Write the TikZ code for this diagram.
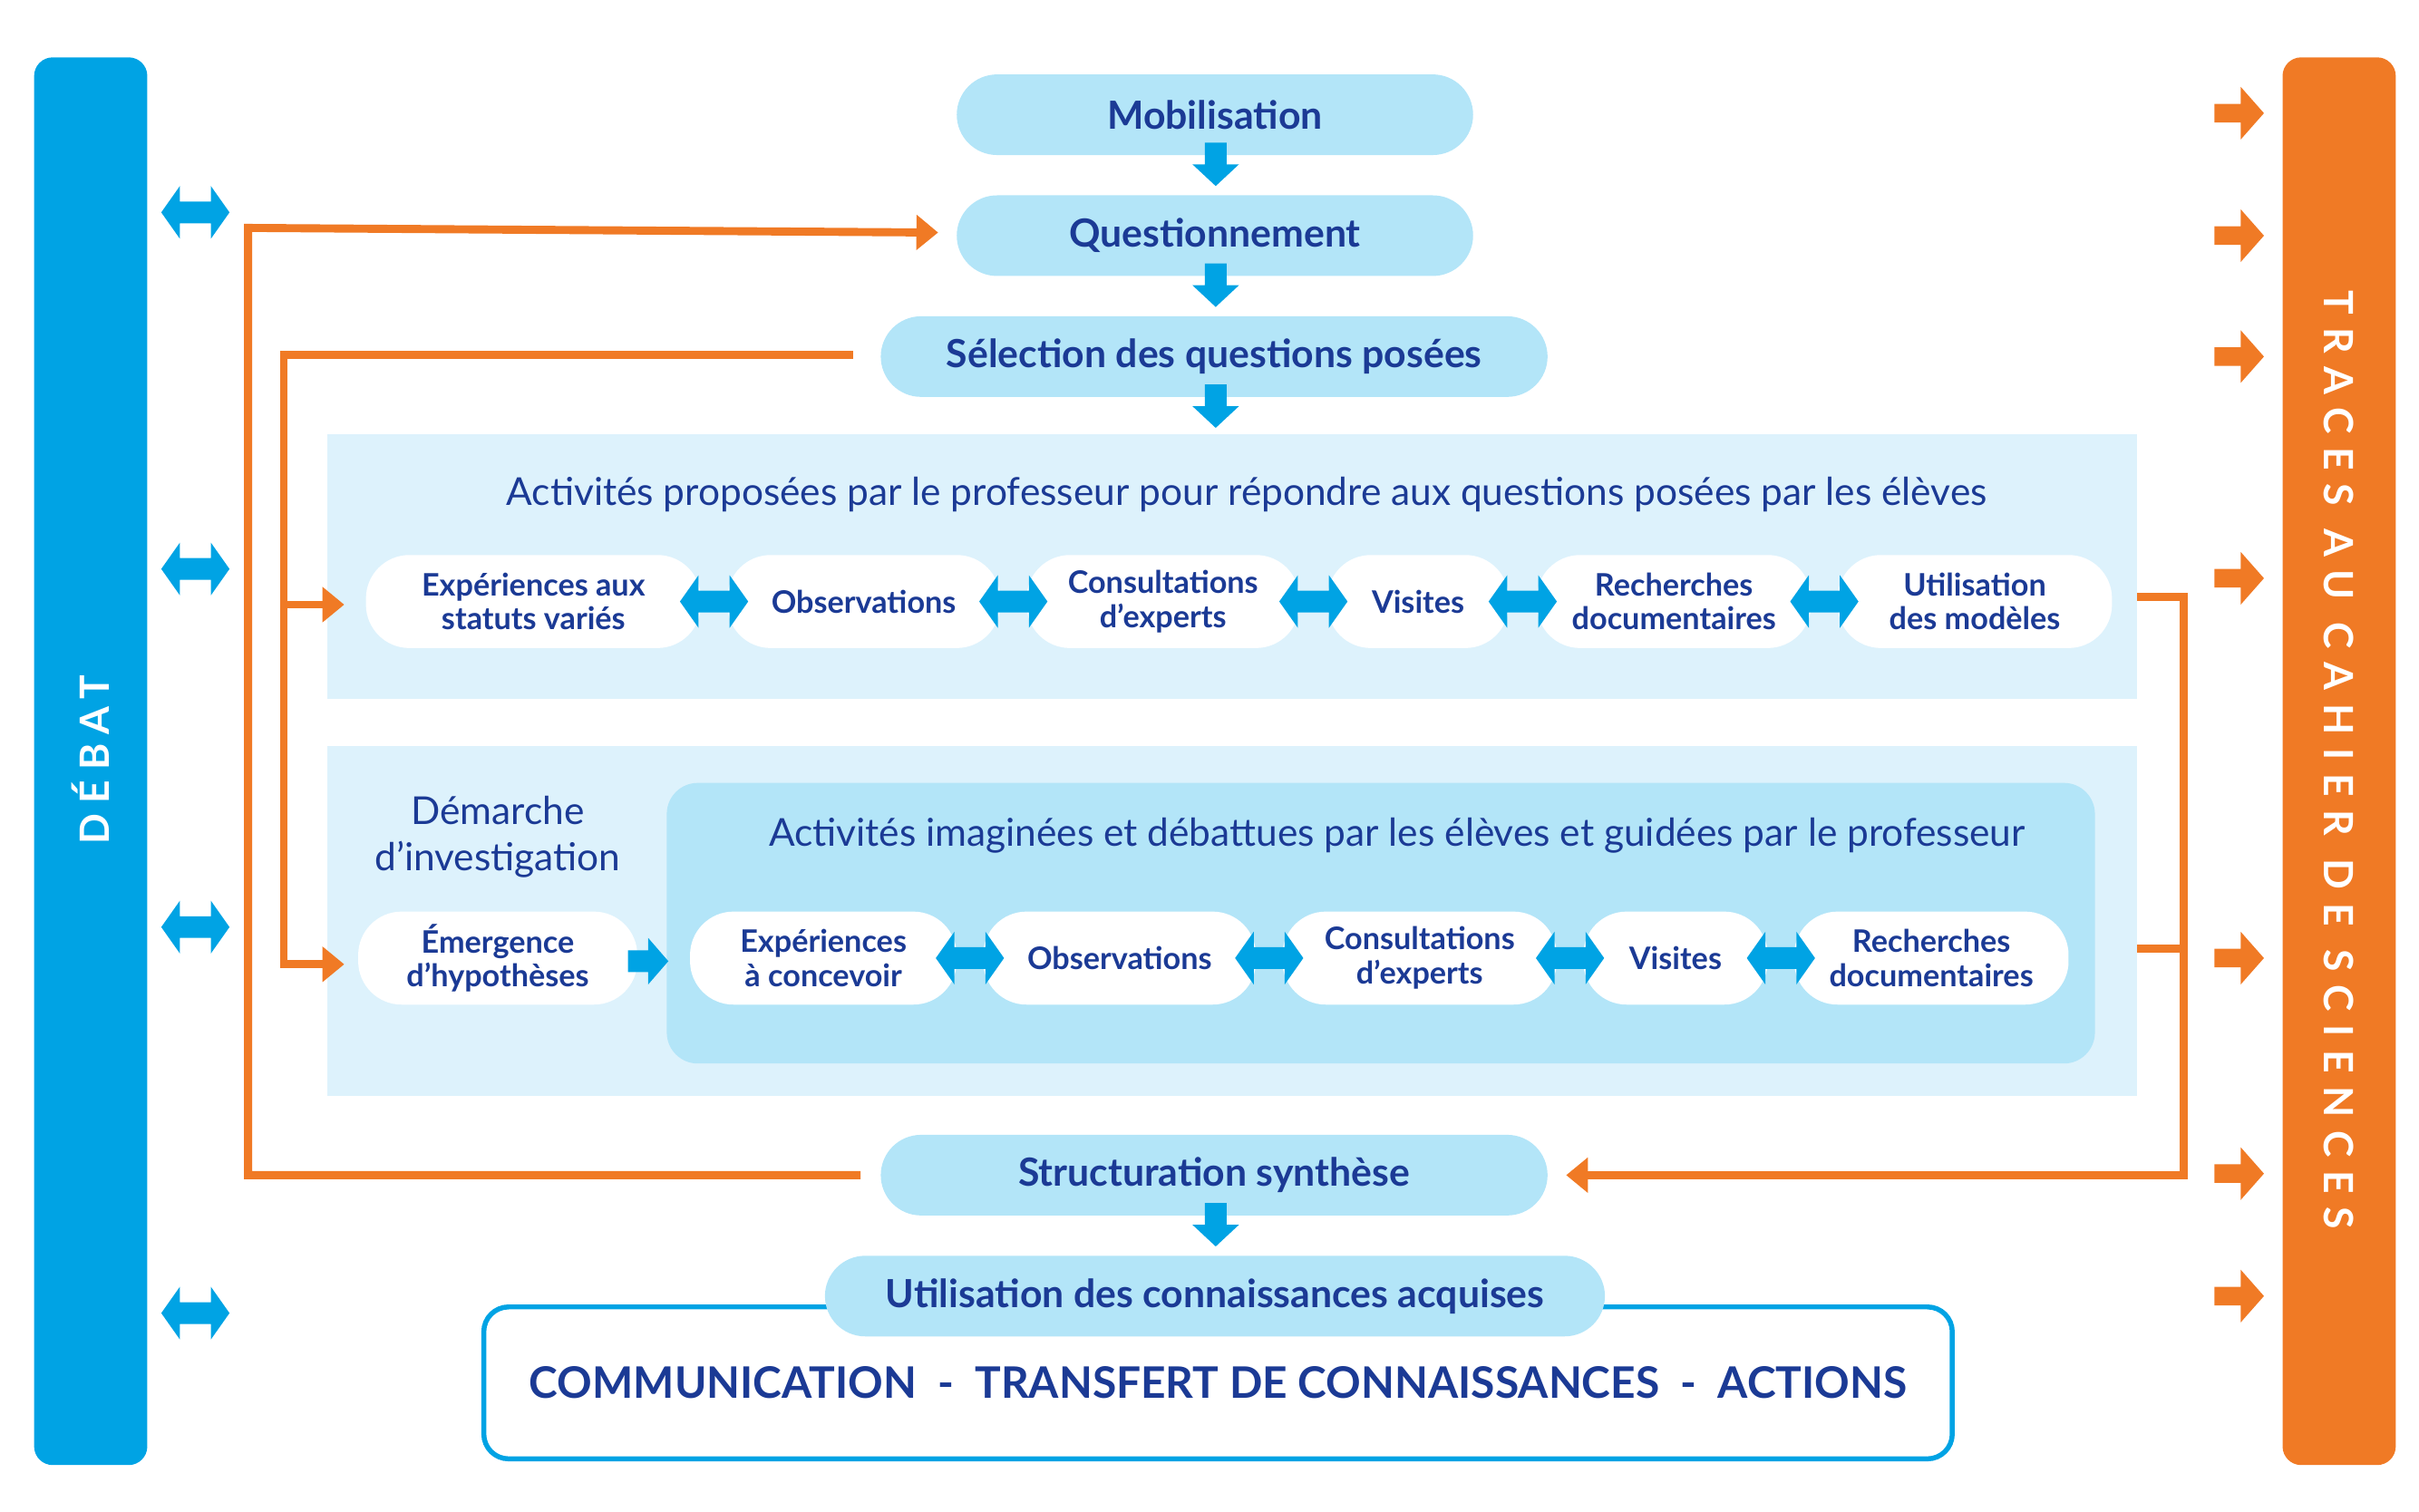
\documentclass[tikz,border=0pt]{standalone}
\usepackage{fontspec}
\setmainfont{Lato}
\usetikzlibrary{arrows.meta,calc}
\definecolor{dblue}{HTML}{1B3A95}
\definecolor{cyanb}{HTML}{00A3E4}
\definecolor{orng}{HTML}{F07A25}
\definecolor{pale}{HTML}{B3E5F8}
\definecolor{paler}{HTML}{DDF2FC}
\begin{document}
\begin{tikzpicture}[x=0.5pt,y=-0.5pt,
  main/.style={rectangle,rounded corners=13pt,fill=pale,text=dblue,font=\bfseries\fontsize{12.5}{14}\selectfont,minimum height=26pt,inner sep=0pt},
  pill/.style={rectangle,rounded corners=14pt,fill=white,text=dblue,font=\bfseries\fontsize{10}{11}\selectfont,minimum height=30pt,inner sep=0pt,align=center},
  title/.style={text=dblue,font=\fontsize{12.4}{15}\selectfont,align=center},
  oline/.style={draw=orng,line width=2.6pt},
  ohead/.style={-{Triangle[length=7pt,width=11pt]}},
  dbl/.pic={\fill[cyanb] (-22,0)--(-10,-17)--(-10,-7)--(10,-7)--(10,-17)--(22,0)--(10,17)--(10,7)--(-10,7)--(-10,17)--cycle;},
  ora/.pic={\fill[orng] (-16,-6)--(1,-6)--(1,-17)--(16,0)--(1,17)--(1,6)--(-16,6)--cycle;},
  dwn/.pic={\fill[cyanb] (-7,-14)--(7,-14)--(7,0)--(15,0)--(0,14)--(-15,0)--(-7,0)--cycle;},
  sgl/.pic={\fill[cyanb] (-13,-7)--(0,-7)--(0,-15)--(13,0)--(0,15)--(0,7)--(-13,7)--cycle;}
]
\useasboundingbox (0,0) rectangle (1560,975);
% side bars
\node[fill=cyanb,rounded corners=6pt,minimum width=36.5pt,minimum height=454pt,inner sep=0pt] (debat) at (58.5,491) {};
\node[rotate=90,text=white,font=\bfseries\fontsize{13}{13}\selectfont\addfontfeature{LetterSpace=25}] (debatt) at (58.5,490) {DÉBAT};
\node[fill=orng,rounded corners=6pt,minimum width=36.5pt,minimum height=454pt,inner sep=0pt] (traces) at (1508.5,491) {};
\node[rotate=-90,text=white,font=\bfseries\fontsize{13}{13}\selectfont\addfontfeature{LetterSpace=33}] (tracest) at (1508.5,490) {TRACES AU CAHIER DE SCIENCES};
% panels
\node[fill=paler,minimum width=583.5pt,minimum height=85.5pt,inner sep=0pt] (box1) at (794.5,365.5) {};
\node[fill=paler,minimum width=583.5pt,minimum height=113pt,inner sep=0pt] (box2) at (794.5,594) {};
\node[fill=pale,rounded corners=10pt,minimum width=460.5pt,minimum height=90.5pt,inner sep=0pt] (inner) at (890.5,595.5) {};
\node[title] (t1) at (804,319) {Activités proposées par le professeur pour répondre aux questions posées par les élèves};
\node[title] (t2) at (901,539) {Activités imaginées et débattues par les élèves et guidées par le professeur};
\node[title] (dem) at (321,540) {Démarche\\d’investigation};
% bottom box
\node[draw=cyanb,line width=1.6pt,fill=white,rounded corners=8pt,minimum width=473.5pt,minimum height=49pt,inner sep=0pt,text=dblue,font=\bfseries\fontsize{14}{15}\selectfont] (comm) at (785.5,892) {\raisebox{-3pt}{COMMUNICATION\ \ -\ \ TRANSFERT DE CONNAISSANCES\ \ -\ \ ACTIONS}};
% main steps
\node[main,minimum width=166.5pt] (mob) at (783.5,74) {Mobilisation};
\node[main,minimum width=166.5pt] (que) at (783.5,152) {Questionnement};
\node[main,minimum width=215pt] (sel) at (783,230) {Sélection des questions posées};
\node[main,minimum width=215pt] (str) at (783,758) {Structuration synthèse};
\node[main,minimum width=251.5pt] (uti) at (783.5,836) {Utilisation des connaissances acquises};
% row 1
\node[pill,minimum width=108pt] (a1) at (344,388) {Expériences aux\\statuts variés};
\node[pill,minimum width=88pt] (a2) at (557,388) {Observations};
\node[pill,minimum width=88pt] (a3) at (750,388) {Consultations\\d’experts};
\node[pill,minimum width=58.5pt] (a4) at (914.5,388) {Visites};
\node[pill,minimum width=88.5pt] (a5) at (1079.5,388) {Recherches\\documentaires};
\node[pill,minimum width=88.5pt] (a6) at (1273.5,388) {Utilisation\\des modèles};
% row 2
\node[pill,minimum width=90pt] (b0) at (321,618) {Émergence\\d’hypothèses};
\node[pill,minimum width=86pt] (b1) at (531,618) {Expériences\\à concevoir};
\node[pill,minimum width=88pt] (b2) at (722,618) {Observations};
\node[pill,minimum width=88.5pt] (b3) at (915.5,618) {Consultations\\d’experts};
\node[pill,minimum width=59.5pt] (b4) at (1080.5,618) {Visites};
\node[pill,minimum width=88.5pt] (b5) at (1245.5,618) {Recherches\\documentaires};
% connectors between pills
\foreach \p/\q in {a1/a2,a2/a3,a3/a4,a4/a5,a5/a6,b1/b2,b2/b3,b3/b4,b4/b5}
  \path ($(\p.east)!0.5!(\q.west)$) pic {dbl};
\path (418,620) pic {sgl};
% down arrows
\path (784,106) pic {dwn};
\path (784,184) pic {dwn};
\path (784,262) pic {dwn};
\path (784,790) pic {dwn};
% side arrows
\foreach \y in {137,367,598,847} \path (126,\y) pic {dbl};
\foreach \y in {73,152,230,373,618,757,836} \path (1444,\y) pic {ora};
% orange connectors
\coordinate (sl) at (555,758);
\draw[oline,ohead] (sl) -- (160,758) -- (160,147) -- (605,150);
\coordinate (ql) at (550,229);
\draw[oline,ohead] (ql) -- (183,229) -- (183,622) -- (222,622);
\draw[oline,ohead] (183,390) -- (222,390);
\coordinate (ur) at (1378,385);
\coordinate (ur2) at (1378,612);
\draw[oline,ohead] (ur) -- (1408,385) -- (1408,758) -- (1010,758);
\draw[oline] (ur2) -- (1408,612);
\end{tikzpicture}
\end{document}
